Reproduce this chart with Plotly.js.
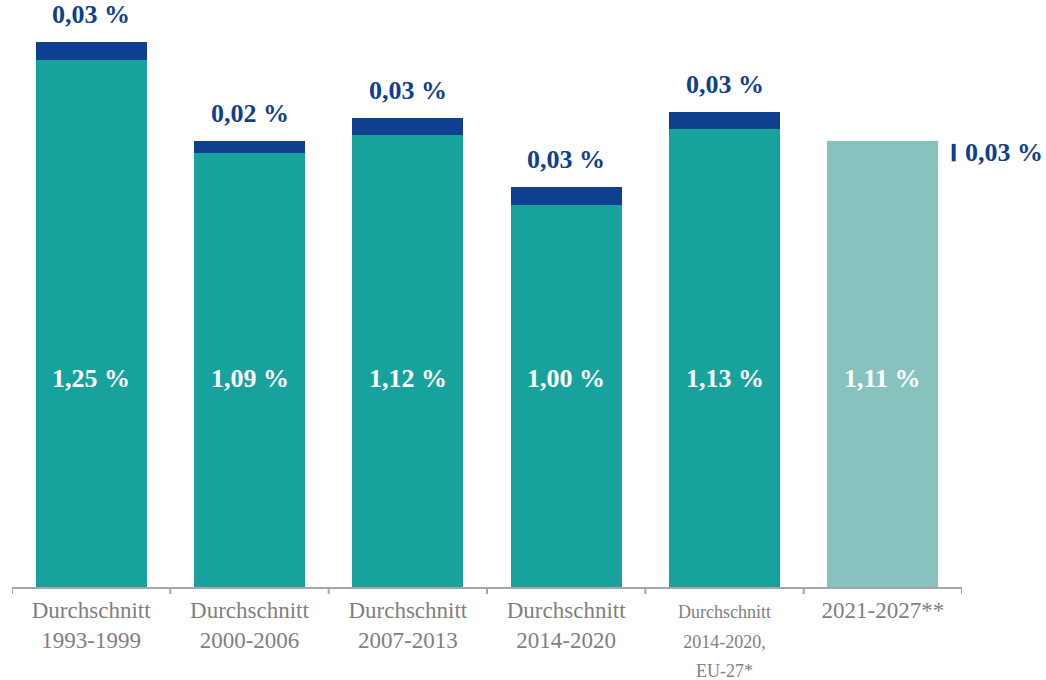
<!DOCTYPE html>
<html>
<head>
<meta charset="utf-8">
<script src="https://cdn.plot.ly/plotly-3.0.1.min.js"></script>
<style>
  body { margin: 0; background: #fff; }
  #chart { width: 1046px; height: 680px; }
</style>
</head>
<body>
<div id="chart"></div>
<script>
// categories and values
var categories = [
    "Durchschnitt<br>1993-1999",
    "Durchschnitt<br>2000-2006",
    "Durchschnitt<br>2007-2013",
    "Durchschnitt<br>2014-2020",
    "<span style=\"font-size:18px\">Durchschnitt<br>2014-2020,<br>EU-27*</span>",
    "2021-2027**<br> "
];
var baseValues = [1.25, 1.09, 1.12, 1.00, 1.13, 1.11];
var capValues = [0.03, 0.02, 0.03, 0.03, 0.03, 0.03];

var teal = "#17a29e";
var lightTeal = "#87c2bf";
var darkBlue = "#0f3f8f";

function pct(v) {
    return v.toFixed(2).replace(".", ",") + " %";
}

var last = baseValues.length - 1;
var xIdx = categories.map(function (c, i) { return i; });

// main bars
var baseTrace = {
    x: xIdx,
    y: baseValues,
    type: "bar",
    marker: {
        color: baseValues.map(function (v, i) { return i === last ? lightTeal : teal; }),
        line: {width: 0}
    },
    hoverinfo: "skip"
};

// dark caps on top (not for the last bar, which has a side mark)
var capTrace = {
    x: xIdx,
    y: capValues.map(function (v, i) { return i === last ? null : v; }),
    type: "bar",
    marker: {color: darkBlue, line: {width: 0}},
    hoverinfo: "skip"
};

var annotations = [];
baseValues.forEach(function (v, i) {
    annotations.push({
        x: i, y: 0.70, xref: "x", yref: "y",
        text: "<b>" + pct(v) + "</b>",
        showarrow: false,
        font: {family: "Liberation Serif", size: 26, color: "#ffffff"}
    });
    if (i !== last) {
        annotations.push({
            x: i, y: v + capValues[i], xref: "x", yref: "y",
            yanchor: "bottom", yshift: 11,
            text: "<b>" + pct(capValues[i]) + "</b>",
            showarrow: false,
            font: {family: "Liberation Serif", size: 26, color: darkBlue}
        });
    }
});

// side label for the last bar (anchored on the bar, pushed right)
annotations.push({
    x: last, y: baseValues[last] - capValues[last] / 2 - 0.005,
    xref: "x", yref: "y", xanchor: "left", xshift: 80,
    text: "<b>" + pct(capValues[last]) + "</b>",
    showarrow: false,
    font: {family: "Liberation Serif", size: 26, color: darkBlue}
});

var shapes = [{
    type: "rect", xref: "x", yref: "y",
    x0: last + 0.435, x1: last + 0.46,
    y0: baseValues[last] - capValues[last] - 0.005,
    y1: baseValues[last] - 0.005,
    fillcolor: darkBlue, line: {width: 0}
}];

// short downward ticks between the categories
var tickShapes = [-0.5, 0.5, 1.5, 2.5, 3.5, 4.5, 5.5].map(function (b) {
    return {
        type: "line", xref: "x", yref: "paper",
        x0: b, x1: b, ysizemode: "pixel", yanchor: 0, y0: 0, y1: -7,
        line: {color: "#a6a6a6", width: 2}
    };
});

var layout = {
    width: 1046,
    height: 680,
    barmode: "stack",
    bargap: 0.3,
    showlegend: false,
    margin: {l: 12, r: 84, t: 20, b: 93},
    paper_bgcolor: "#ffffff",
    plot_bgcolor: "#ffffff",
    xaxis: {
        range: [-0.5, 5.5],
        tickvals: xIdx,
        ticktext: categories,
        showline: true,
        linecolor: "#a6a6a6",
        linewidth: 2,
        ticks: "",
        showgrid: false,
        zeroline: false,
        tickfont: {family: "Liberation Serif", size: 23, color: "#7f7f7f"},
        ticklabelstandoff: 1,
        fixedrange: true
    },
    yaxis: {
        range: [0.341, 1.3186],
        visible: false,
        showgrid: false,
        zeroline: false,
        fixedrange: true
    },
    annotations: annotations,
    shapes: shapes.concat(tickShapes)
};

Plotly.newPlot("chart", [baseTrace, capTrace], layout, {displayModeBar: false, staticPlot: true});
</script>
</body>
</html>
